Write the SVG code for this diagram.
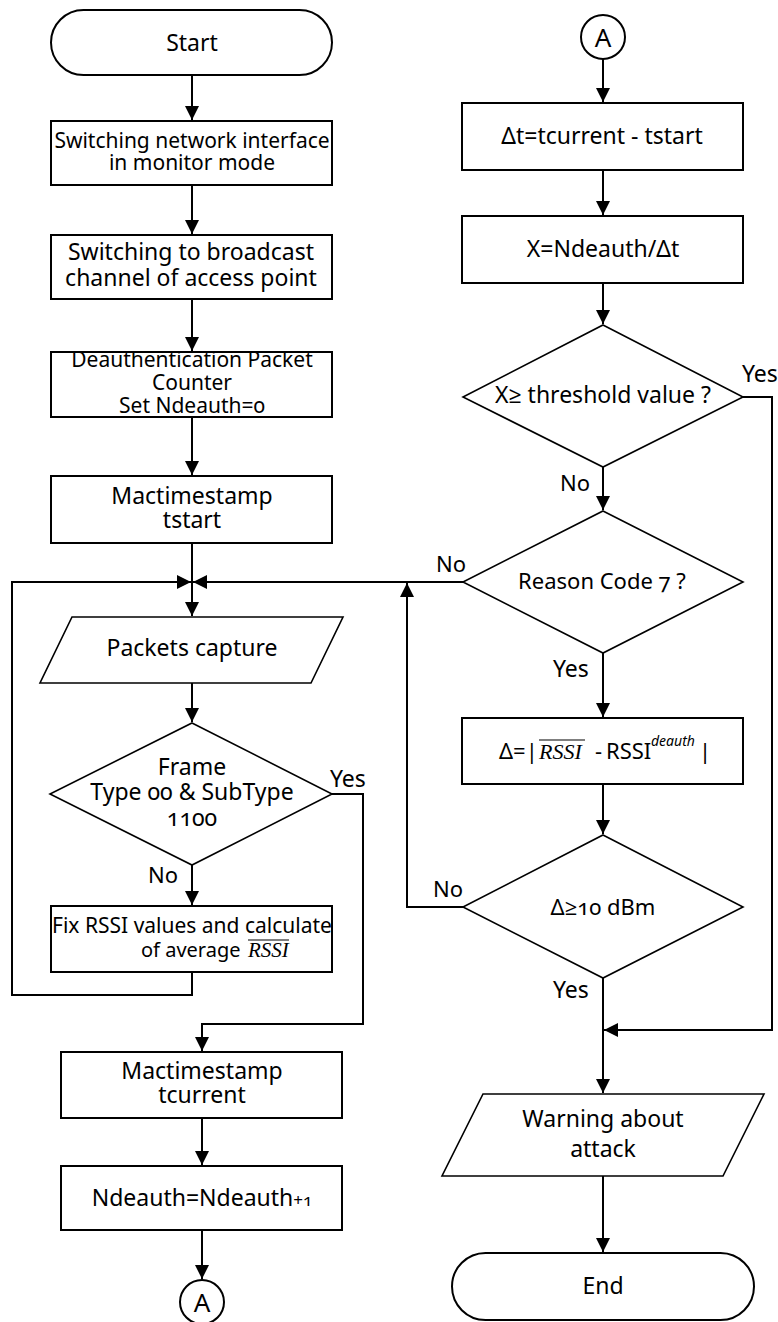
<svg xmlns="http://www.w3.org/2000/svg" width="778" height="1322" viewBox="0 0 778 1322">
<defs>
<style>
.n{fill:#fff;stroke:#000;stroke-width:2}
.d{fill:#fff;stroke:#000;stroke-width:1.6}
.c{fill:none;stroke:#000;stroke-width:2}
text{font-family:"Noto Sans","Open Sans",sans-serif;font-size:23px;fill:#000;font-variant-numeric:oldstyle-nums}
.m{text-anchor:middle}
.it{font-family:"Liberation Serif","DejaVu Serif",serif;font-style:italic}
</style>
<marker id="ah" viewBox="0 0 14 14" refX="14" refY="7" markerWidth="14" markerHeight="14" markerUnits="userSpaceOnUse" orient="auto">
<path d="M0,0 L14,7 L0,14 z" fill="#000"/>
</marker>
</defs>
<rect width="778" height="1322" fill="#fff"/>

<g id="connectors">
<path class="c" d="M192,75 V120" marker-end="url(#ah)"/>
<path class="c" d="M192,185 V234" marker-end="url(#ah)"/>
<path class="c" d="M192,299 V351" marker-end="url(#ah)"/>
<path class="c" d="M192,417 V475" marker-end="url(#ah)"/>
<path class="c" d="M192,543 V616" marker-end="url(#ah)"/>
<path class="c" d="M192,683 V722" marker-end="url(#ah)"/>
<path class="c" d="M192,865 V905" marker-end="url(#ah)"/>
<path class="c" d="M192,972 V995 H12 V582 H191" marker-end="url(#ah)"/>
<path class="c" d="M463,582 H193" marker-end="url(#ah)"/>
<path class="c" d="M332,794 H363 V1024 H202 V1051" marker-end="url(#ah)"/>
<path class="c" d="M202,1118 V1165" marker-end="url(#ah)"/>
<path class="c" d="M202,1230 V1279" marker-end="url(#ah)"/>
<path class="c" d="M603,59 V102" marker-end="url(#ah)"/>
<path class="c" d="M603,170 V215" marker-end="url(#ah)"/>
<path class="c" d="M603,283 V324" marker-end="url(#ah)"/>
<path class="c" d="M603,467 V510" marker-end="url(#ah)"/>
<path class="c" d="M603,653 V717" marker-end="url(#ah)"/>
<path class="c" d="M603,784 V834" marker-end="url(#ah)"/>
<path class="c" d="M463,907 H407 V583" marker-end="url(#ah)"/>
<path class="c" d="M603,978 V1093" marker-end="url(#ah)"/>
<path class="c" d="M743,397 H772 V1030 H604" marker-end="url(#ah)"/>
<path class="c" d="M603,1176 V1252" marker-end="url(#ah)"/>
<text x="330" y="787">Yes</text>
<text x="148" y="883" style="font-size:22px">No</text>
<text x="742" y="382">Yes</text>
<text x="560" y="491" style="font-size:22px">No</text>
<text x="436" y="572" style="font-size:22px">No</text>
<text x="553" y="677">Yes</text>
<text x="433" y="897" style="font-size:22px">No</text>
<text x="553" y="998">Yes</text>
</g>

<g id="start">
<rect class="n" x="51" y="10" width="281" height="65" rx="32.5"/>
<text class="m" x="192" y="51">Start</text>
</g>
<g id="monitor">
<rect class="n" x="51" y="121" width="281" height="64"/>
<text class="m" x="192" y="148" style="font-size:21px">Switching network interface</text>
<text class="m" x="192" y="170" style="font-size:21px">in monitor mode</text>
</g>
<g id="channel">
<rect class="n" x="51" y="235" width="281" height="64"/>
<text class="m" x="191" y="260">Switching to broadcast</text>
<text class="m" x="191" y="286">channel of access point</text>
</g>
<g id="counter">
<rect class="n" x="51" y="352" width="281" height="65"/>
<text class="m" x="192" y="367" style="font-size:21px">Deauthentication Packet</text>
<text class="m" x="192" y="390" style="font-size:21px">Counter</text>
<text class="m" x="192" y="413" style="font-size:21px">Set Ndeauth=0</text>
</g>
<g id="tstart">
<rect class="n" x="51" y="476" width="281" height="67"/>
<text class="m" x="192" y="504">Mactimestamp</text>
<text class="m" x="192" y="528">tstart</text>
</g>
<g id="capture">
<polygon class="d" points="72,617 343,617 311,683 40,683"/>
<text class="m" x="192" y="656">Packets capture</text>
</g>
<g id="frametype">
<polygon class="d" points="192,723 332,794 192,865 50,794"/>
<text class="m" x="192" y="775">Frame</text>
<text class="m" x="192" y="800">Type 00 &amp; SubType</text>
<text class="m" x="192" y="826">1100</text>
</g>
<g id="fixrssi">
<rect class="n" x="51" y="906" width="281" height="66"/>
<text class="m" x="192" y="933" style="font-size:21px">Fix RSSI values and calculate</text>
<text x="141" y="957" style="font-size:20px">of average</text>
<text class="it" x="248" y="957" style="font-size:21px">RSSI</text>
<line x1="248" y1="940" x2="289" y2="940" stroke="#000" stroke-width="1.2"/>
</g>
<g id="tcurrent">
<rect class="n" x="61" y="1052" width="281" height="66"/>
<text class="m" x="202" y="1079">Mactimestamp</text>
<text class="m" x="202" y="1103">tcurrent</text>
</g>
<g id="increment">
<rect class="n" x="61" y="1166" width="281" height="64"/>
<text class="m" x="202" y="1206">Ndeauth=Ndeauth<tspan style="font-size:17px">+1</tspan></text>
</g>
<g id="connectorA1">
<circle class="n" cx="202" cy="1302" r="22"/>
<text class="m" x="202" y="1312" style="font-size:26px">A</text>
</g>

<g id="connectorA2">
<circle class="n" cx="603" cy="37" r="22"/>
<text class="m" x="603" y="47" style="font-size:26px">A</text>
</g>
<g id="deltat">
<rect class="n" x="462" y="103" width="281" height="67"/>
<text class="m" x="602" y="144">Δt=tcurrent - tstart</text>
</g>
<g id="rate">
<rect class="n" x="462" y="216" width="281" height="67"/>
<text class="m" x="603" y="257">X=Ndeauth/Δt</text>
</g>
<g id="threshold">
<polygon class="d" points="603,325 743,397 603,467 463,397"/>
<text class="m" x="603" y="403">X≥ threshold value ?</text>
</g>
<g id="reason">
<polygon class="d" points="603,511 743,582 603,653 463,582"/>
<text class="m" x="602" y="589" style="font-size:22px">Reason Code 7 ?</text>
</g>
<g id="delta">
<rect class="n" x="462" y="718" width="281" height="66"/>
<text x="499" y="759" style="font-size:22px">Δ=|</text>
<text class="it" x="539" y="759" style="font-size:22px">RSSI</text>
<line x1="539" y1="740" x2="585" y2="740" stroke="#000" stroke-width="1.2"/>
<text x="595" y="759" style="font-size:22px">-</text>
<text x="606" y="759" style="font-size:22px">RSSI</text>
<text x="651" y="746" style="font-size:14px;font-style:italic">deauth</text>
<text x="699" y="759" style="font-size:22px">|</text>
</g>
<g id="deltacheck">
<polygon class="d" points="603,835 743,907 603,978 463,907"/>
<text class="m" x="603" y="915" style="font-size:22px">Δ≥10 dBm</text>
</g>
<g id="warning">
<polygon class="d" points="483,1094 764,1094 723,1176 442,1176"/>
<text class="m" x="603" y="1127">Warning about</text>
<text class="m" x="603" y="1157">attack</text>
</g>
<g id="end">
<rect class="n" x="452" y="1253" width="302" height="67" rx="33.5"/>
<text class="m" x="603" y="1294">End</text>
</g>
</svg>
